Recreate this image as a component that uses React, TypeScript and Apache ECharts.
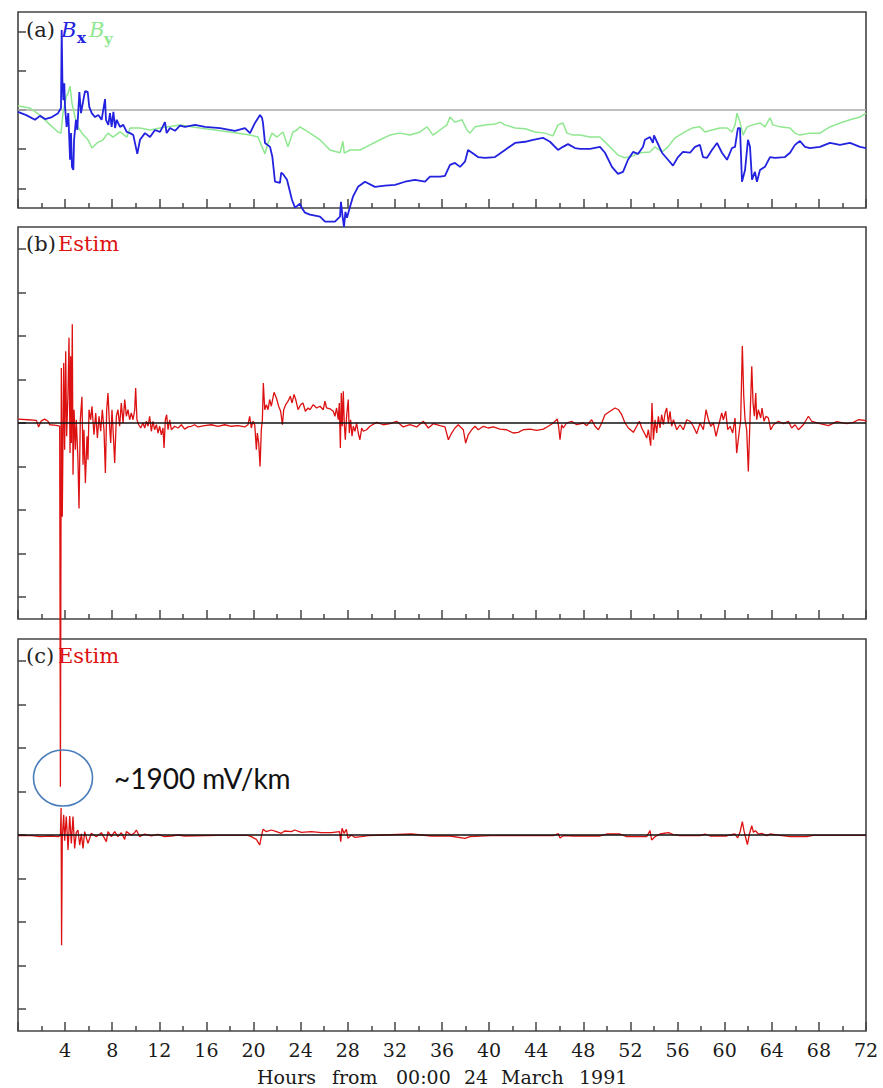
import React, { useEffect, useRef } from 'react';
import * as echarts from 'echarts';

// Hours since 00:00 24 March 1991, field values
const bxData: number[][] = [
  [0,-0.5],[0.7,-1.3],[1.44,-2.5],[1.87,-1.5],[2.3,-2.3],[2.89,-1.8],[3.4,-0.8],[3.65,0.5],[3.71,20.4],[3.77,7.6],[3.85,2.5],[3.93,6.8],[3.99,1.0],[4.13,-4.3],[4.27,-0.8],[4.42,-12.7],[4.5,-5.9],[4.58,-14.5],[4.7,-15.3],[4.76,-7.6],[4.92,-2.5],[5.03,-5.1],[5.21,4.6],[5.35,-0.8],[5.55,2.5],[5.69,4.8],[5.92,4.6],[6.05,0.8],[6.26,-0.8],[6.54,-1.8],[6.82,-1.3],[7.1,-2.5],[7.39,2.8],[7.47,-2.5],[7.67,-3.8],[7.81,-0.8],[7.95,-4.3],[8.1,-0.5],[8.24,-4.6],[8.38,-2.5],[8.66,-4.3],[8.94,-3.8],[9.23,-5.6],[9.51,-5.9],[9.79,-6.4],[10.13,-11.2],[10.36,-7.6],[10.78,-5.9],[11.21,-6.9],[11.63,-5.1],[12.06,-5.6],[12.48,-3.1],[12.62,-5.9],[12.9,-4.6],[13.33,-5.3],[13.75,-4.0],[14.18,-4.3],[15.03,-3.8],[15.88,-4.3],[17.15,-4.6],[18.42,-5.3],[19.27,-4.6],[19.7,-5.9],[20.12,-3.3],[20.55,-1.3],[20.72,-2.0],[20.8,-3.3],[20.97,-8.4],[21.4,-9.4],[21.6,-12.0],[21.82,-18.3],[22.24,-18.6],[22.35,-16.0],[22.5,-16.3],[22.84,-17.8],[23.26,-22.9],[23.52,-24.9],[23.94,-23.9],[24.1,-25.0],[24.37,-26.2],[24.79,-26.7],[25.64,-27.2],[26.07,-28.5],[26.91,-28.5],[27.34,-27.2],[27.42,-23.4],[27.55,-27.0],[27.68,-29.8],[27.8,-26.0],[27.93,-27.5],[28.19,-24.7],[28.44,-22.1],[28.87,-19.6],[29.46,-18.3],[30.31,-19.6],[31.16,-19.3],[32.01,-19.1],[32.86,-18.3],[33.71,-17.8],[34.56,-18.3],[34.98,-17.0],[35.83,-17.0],[36.25,-16.8],[36.68,-14.0],[37.1,-13.5],[37.53,-14.5],[37.95,-13.2],[38.21,-10.2],[38.55,-10.9],[39.06,-12.0],[39.65,-12.2],[40.5,-12.0],[41.35,-10.2],[42.2,-8.4],[43.05,-8.1],[43.73,-7.6],[44.57,-7.1],[45.17,-8.1],[45.85,-10.2],[46.27,-9.4],[46.7,-8.7],[47.29,-9.7],[47.72,-9.9],[48.57,-9.9],[49.41,-9.4],[49.84,-10.9],[50.43,-14.5],[50.94,-16.3],[51.37,-15.8],[51.79,-12.7],[52.22,-10.7],[52.64,-11.2],[53.07,-9.4],[53.23,-7.6],[53.66,-6.9],[53.91,-8.4],[54.0,-6.5],[54.25,-8.1],[54.68,-10.9],[55.19,-12.7],[55.61,-14.2],[56.04,-12.0],[56.46,-10.7],[57.06,-10.9],[57.48,-9.4],[57.9,-8.9],[58.16,-12.0],[58.5,-12.2],[58.92,-10.2],[59.35,-8.4],[59.77,-10.9],[60.2,-12.7],[60.62,-9.7],[60.88,-9.4],[61.05,-6.0],[61.13,-4.6],[61.3,-4.6],[61.47,-18.3],[61.73,-15.3],[61.98,-7.6],[62.15,-9.4],[62.32,-17.8],[62.57,-15.8],[62.74,-18.3],[63.0,-15.3],[63.42,-14.5],[63.85,-12.0],[64.27,-12.2],[65.12,-12.0],[65.55,-10.9],[65.97,-8.9],[66.39,-7.9],[66.82,-9.4],[67.24,-9.7],[68.09,-9.4],[68.94,-8.4],[69.79,-8.9],[70.64,-8.4],[71.49,-9.4],[72,-9.7]
];

const byData: number[][] = [
  [0,1.0],[1.02,0.5],[1.87,-1.3],[2.72,-3.8],[3.4,-5.6],[3.65,-5.9],[3.82,-0.8],[4.1,3.5],[4.25,4.3],[4.42,6.1],[4.58,1.8],[4.84,-1.8],[5.09,-4.3],[5.43,-5.9],[5.94,-7.6],[6.28,-9.7],[6.71,-8.4],[7.22,-7.6],[7.64,-5.9],[8.07,-6.9],[8.66,-5.6],[9.25,-6.9],[9.51,-4.6],[10.36,-4.6],[11.21,-5.1],[12.06,-4.6],[13.75,-3.8],[15.45,-4.6],[18.0,-5.6],[19.7,-6.4],[20.38,-6.9],[20.72,-9.4],[20.97,-11.2],[21.23,-8.4],[21.57,-5.9],[21.99,-6.9],[22.5,-5.6],[22.92,-9.4],[23.35,-5.6],[23.69,-5.1],[23.94,-4.3],[24.37,-5.1],[25.05,-6.4],[25.64,-7.6],[26.49,-10.2],[27.34,-10.9],[27.59,-8.0],[27.7,-11.0],[28.19,-10.2],[29.04,-10.2],[29.89,-8.9],[30.74,-7.6],[31.58,-6.4],[32.43,-5.9],[33.28,-6.4],[34.13,-5.6],[34.73,-4.3],[35.24,-6.4],[35.83,-5.1],[36.42,-3.8],[36.68,-1.8],[37.1,-3.1],[37.7,-2.5],[38.12,-5.1],[38.38,-5.9],[38.8,-4.3],[39.65,-3.8],[40.5,-3.6],[40.92,-3.1],[41.35,-3.8],[42.2,-4.6],[43.05,-4.8],[43.9,-5.6],[44.74,-5.9],[45.42,-6.6],[45.85,-3.8],[46.27,-3.3],[46.61,-5.9],[47.12,-6.4],[47.72,-6.4],[48.57,-6.9],[49.41,-6.9],[50.26,-9.4],[50.94,-11.5],[51.54,-12.2],[52.22,-11.7],[52.81,-10.9],[53.66,-10.7],[54.08,-9.4],[54.68,-10.7],[55.19,-9.4],[55.78,-7.1],[56.63,-5.6],[57.23,-4.6],[57.9,-4.3],[58.33,-5.6],[58.92,-5.1],[59.6,-4.6],[60.2,-4.6],[60.62,-5.6],[60.88,-3.8],[61.05,-0.8],[61.3,-3.1],[61.56,-6.4],[61.9,-4.3],[62.4,-3.8],[63.0,-3.3],[63.42,-4.3],[63.85,-2.0],[64.1,-3.8],[64.7,-4.3],[65.55,-4.6],[65.97,-5.9],[66.39,-6.4],[67.24,-5.9],[68.09,-5.9],[68.94,-4.3],[69.79,-3.3],[70.64,-2.5],[71.49,-1.8],[72,-0.8]
];

// Panel (b) Estim, mV/km
const estimB: number[][] = [
  [0,18],[0.85,15],[1.56,12],[1.75,-18],[1.98,10],[2.26,18],[2.55,8],[2.69,-8],[3.11,-10],[3.54,-14],[3.6,-1670],[3.68,253],[3.76,-430],[3.88,276],[3.96,-123],[4.05,330],[4.13,-61],[4.25,146],[4.33,392],[4.42,-138],[4.47,307],[4.53,-92],[4.61,453],[4.67,-238],[4.76,61],[4.87,-123],[4.95,15],[5.09,-169],[5.18,-392],[5.29,15],[5.43,120],[5.52,-192],[5.6,-31],[5.72,-276],[5.86,-61],[5.94,-169],[6.03,61],[6.17,15],[6.28,77],[6.45,-54],[6.6,46],[6.74,-69],[6.88,31],[7.02,-38],[7.16,61],[7.3,-31],[7.42,-230],[7.53,61],[7.64,138],[7.76,0],[7.87,-92],[7.98,61],[8.07,-31],[8.21,-184],[8.35,31],[8.49,61],[8.63,-15],[8.77,92],[8.92,0],[9.06,108],[9.2,31],[9.34,61],[9.48,15],[9.62,46],[9.77,15],[9.91,61],[9.99,161],[10.1,15],[10.25,-8],[10.42,-23],[10.61,0],[10.76,-23],[10.9,8],[11.04,-15],[11.18,31],[11.32,-38],[11.46,8],[11.6,-31],[11.75,-8],[11.89,-46],[12.03,-15],[12.17,-54],[12.31,-23],[12.4,-115],[12.51,15],[12.62,38],[12.74,-31],[12.88,15],[13.02,-31],[13.3,-15],[13.59,-23],[13.87,-8],[14.15,-28],[14.44,-18],[14.72,-15],[15.0,-8],[15.28,-18],[15.85,-12],[16.42,-8],[16.98,-15],[17.55,-8],[18.11,-15],[18.68,-12],[19.25,-18],[19.53,-8],[19.67,31],[19.81,-23],[19.95,8],[20.1,-8],[20.24,-123],[20.32,-46],[20.44,-92],[20.55,-200],[20.66,-31],[20.75,15],[20.83,184],[20.95,61],[21.09,84],[21.23,61],[21.37,108],[21.51,77],[21.74,141],[21.94,115],[22.13,77],[22.3,54],[22.45,-8],[22.56,61],[22.73,84],[22.93,100],[23.12,123],[23.27,92],[23.44,131],[23.58,108],[23.78,61],[24.0,84],[24.2,92],[24.4,54],[24.63,69],[24.79,61],[25.07,84],[25.36,69],[25.64,77],[25.92,61],[26.06,100],[26.2,69],[26.49,65],[26.77,54],[26.91,31],[27.05,69],[27.19,15],[27.28,92],[27.37,-115],[27.45,138],[27.53,-15],[27.62,146],[27.7,0],[27.79,-77],[27.9,31],[28.04,108],[28.13,-46],[28.24,15],[28.36,-61],[28.47,-15],[28.61,-38],[28.75,0],[28.89,-46],[29.03,-77],[29.18,-23],[29.32,-38],[29.6,-31],[29.88,-15],[30.45,3],[31.02,-8],[31.58,-3],[32.15,8],[32.71,-18],[33.28,-8],[33.85,-18],[34.41,8],[34.84,-23],[35.26,-3],[35.83,-12],[36.25,-18],[36.54,-77],[36.82,-46],[37.1,-23],[37.38,-8],[37.81,-31],[38.01,-92],[38.23,-54],[38.52,-31],[38.8,-15],[39.08,-31],[39.51,-15],[39.93,-23],[40.36,-18],[40.92,-28],[41.49,-31],[42.05,-46],[42.48,-43],[42.9,-31],[43.47,-28],[44.04,-34],[44.6,-28],[45.03,-15],[45.45,0],[45.79,18],[45.9,-15],[46.02,-77],[46.16,-8],[46.3,-23],[46.58,0],[47.01,8],[47.43,-8],[48.0,0],[48.29,-12],[48.71,15],[48.99,-15],[49.28,-31],[49.56,0],[49.84,38],[50.27,54],[50.69,69],[50.98,61],[51.26,38],[51.54,0],[51.82,-23],[52.25,-43],[52.53,-15],[52.76,8],[52.96,-23],[53.18,-46],[53.38,-69],[53.52,-31],[53.72,-104],[53.83,92],[53.95,-77],[54.09,15],[54.23,-46],[54.37,31],[54.51,-23],[54.65,38],[54.8,-8],[54.94,46],[55.08,69],[55.22,0],[55.36,54],[55.5,-15],[55.65,15],[55.93,-31],[56.21,-8],[56.49,-31],[56.78,15],[57.06,8],[57.34,-15],[57.63,-49],[57.91,0],[58.19,-31],[58.42,61],[58.62,15],[58.82,-15],[59.04,0],[59.27,-61],[59.47,-15],[59.75,46],[59.89,15],[60.09,54],[60.26,-31],[60.46,-15],[60.68,-46],[60.88,23],[61.02,-138],[61.19,-61],[61.36,15],[61.5,353],[61.62,123],[61.73,15],[61.87,-31],[62.01,-223],[62.15,15],[62.3,261],[62.41,92],[62.52,31],[62.64,138],[62.72,15],[62.86,61],[63.06,23],[63.17,69],[63.34,8],[63.51,31],[63.71,23],[63.91,-31],[64.14,-8],[64.56,8],[64.99,-3],[65.41,8],[65.69,-23],[65.98,-8],[66.26,-31],[66.68,-8],[67.11,31],[67.39,8],[68.1,-3],[68.81,-12],[69.51,6],[70.36,-3],[70.93,3],[71.35,15],[71.92,12],[72,5]
];

// Panel (c) Estim, mV/km
const estimC: number[][] = [
  [0,-12],[1.2,-12],[1.84,-29],[2.83,-17],[3.4,-29],[3.6,-10],[3.66,467],[3.7,-1900],[3.76,-40],[3.88,346],[3.96,-100],[4.1,317],[4.25,-259],[4.39,328],[4.53,-144],[4.67,317],[4.81,-230],[4.95,40],[5.09,86],[5.24,-173],[5.38,20],[5.52,-230],[5.66,58],[5.94,-144],[6.23,29],[6.65,-29],[7.08,40],[7.3,-40],[7.5,-115],[7.64,58],[7.93,-29],[8.21,58],[8.49,-29],[8.77,40],[9.06,-75],[9.2,58],[9.62,0],[9.91,40],[10.05,86],[10.33,-29],[10.76,17],[11.32,-17],[11.89,12],[12.45,-29],[13.02,-17],[13.59,0],[14.15,-17],[16.98,-6],[19.53,-6],[19.81,-29],[20.24,-75],[20.52,-173],[20.66,-29],[20.8,98],[21.09,58],[21.51,86],[21.94,58],[22.36,29],[22.64,69],[23.21,58],[23.49,86],[24.06,46],[24.91,58],[25.76,40],[26.61,40],[27.31,58],[27.4,-115],[27.51,115],[27.68,29],[27.88,98],[28.02,-58],[28.3,0],[28.59,-40],[29.15,-29],[29.72,-12],[31.13,0],[33.4,17],[35.1,-17],[36.68,-17],[37.95,-58],[38.38,-29],[40.08,-12],[42.9,-12],[45.45,-12],[45.88,23],[46.02,-52],[46.3,-12],[47.15,-17],[49.42,-17],[49.98,17],[51.11,17],[51.68,-29],[53.38,-29],[53.66,75],[53.8,-86],[54.09,-29],[54.51,17],[55.22,40],[55.64,6],[56.21,-12],[57.91,-12],[58.33,17],[58.76,-17],[60.17,-17],[60.45,0],[60.88,17],[61.1,-52],[61.3,46],[61.5,230],[61.64,75],[61.81,-69],[61.93,-167],[62.1,17],[62.3,161],[62.44,46],[62.61,75],[62.86,17],[63.14,29],[63.57,-12],[63.85,17],[64.7,-6],[65.55,-29],[66.96,-29],[67.53,-6],[69.8,-6],[72,-6]
];

const tickA = [-20, -10, 0, 10, 20];
const tickB = [-800, -600, -400, -200, 0, 200, 400, 600, 800];
const tickC = [-3000, -2250, -1500, -750, 0, 750, 1500, 2250, 3000];
const hourTickLabels = ['4','8','12','16','20','24','28','32','36','40','44','48','52','56','60','64','68','72'];
const axisTitleWords = ['Hours', 'from', '00:00', '24', 'March', '1991'];
const wordX = [257, 332, 396, 464, 501, 579];

const SERIF = '"DejaVu Serif", "Liberation Serif", serif';
const AX = '#444';

function makeX(gi: number, labels: boolean) {
  return {
    type: 'value', gridIndex: gi, min: 0, max: 72, interval: 4,
    axisLine: { show: false, onZero: false },
    axisTick: { show: true, inside: true, length: 9, lineStyle: { color: AX, width: 1.5 } },
    minorTick: { show: true, splitNumber: 2, length: 5, lineStyle: { color: AX, width: 1.5 } },
    splitLine: { show: false }, minorSplitLine: { show: false },
    axisLabel: labels ? {
      show: true, margin: 9, fontSize: 19, fontFamily: SERIF, color: '#1a1a1a',
      showMinLabel: true, showMaxLabel: true,
      formatter: (v: number) => { const s = String(v); return hourTickLabels.indexOf(s) >= 0 ? s : ''; },
    } : { show: false },
  };
}
function makeY(gi: number, min: number, max: number, ticks: number[]) {
  return {
    type: 'value', gridIndex: gi, min, max,
    axisLine: { show: false, onZero: false },
    axisTick: { show: true, inside: true, length: 8, customValues: ticks, lineStyle: { color: AX, width: 1.5 } },
    axisLabel: { show: false },
    splitLine: { show: false },
  };
}
function lineSeries(xi: number, data: number[][], color: string, width: number, z: number) {
  return {
    type: 'line', xAxisIndex: xi, yAxisIndex: xi, data, showSymbol: false, symbol: 'none',
    clip: false, z, silent: true,
    lineStyle: { color, width }, itemStyle: { color },
  };
}
const grid = (top: number, height: number) => ({
  left: 18, top, width: 848, height, show: true, borderColor: AX, borderWidth: 1.6,
  backgroundColor: 'rgba(0,0,0,0)',
});

function txt(x: number, y: number, text: string, font: string, fill: string) {
  return { type: 'text', x, y, z: 100, style: { text, font, fill, textAlign: 'left', textVerticalAlign: 'middle' } };
}

export default function App() {
  const ref = useRef<HTMLDivElement>(null);
  useEffect(() => {
    const chart = echarts.init(ref.current!, null, { renderer: 'svg' });
    const option: any = {
      animation: false,
      grid: [grid(12, 196), grid(227, 392), grid(639, 392)],
      xAxis: [makeX(0, false), makeX(1, false), makeX(2, true)],
      yAxis: [makeY(0, -25, 25, tickA), makeY(1, -900, 900, tickB), makeY(2, -3375, 3375, tickC)],
      series: [
        lineSeries(0, [[0, 0], [72, 0]], '#a8a8a8', 1.5, 1),
        lineSeries(0, byData, '#8fe88f', 1.5, 2),
        lineSeries(0, bxData, '#2222e0', 1.8, 3),
        lineSeries(1, estimB, '#dd1111', 1.3, 2),
        lineSeries(1, [[0, 0], [72, 0]], '#111111', 1.3, 4),
        lineSeries(2, estimC, '#dd1111', 1.3, 2),
        lineSeries(2, [[0, 0], [72, 0]], '#111111', 1.3, 4),
      ],
      graphic: [
        txt(26, 30, '(a)', '21px ' + SERIF, '#222'),
        txt(61, 30, 'B', 'italic 21px ' + SERIF, '#2222e0'),
        txt(77, 38, 'x', 'bold 15px ' + SERIF, '#2222e0'),
        txt(89, 30, 'B', 'italic 21px ' + SERIF, '#8fe88f'),
        txt(104, 39, 'y', 'bold 15px ' + SERIF, '#8fe88f'),
        txt(26, 244, '(b)', '21px ' + SERIF, '#222'),
        txt(58, 244, 'Estim', '21px ' + SERIF, '#dd1111'),
        txt(26, 656, '(c)', '21px ' + SERIF, '#222'),
        txt(58, 656, 'Estim', '21px ' + SERIF, '#dd1111'),
        ...axisTitleWords.map((w, i) => txt(wordX[i], 1077, w, '19px ' + SERIF, '#1a1a1a')),
        {
          type: 'ellipse', z: 100,
          shape: { cx: 63, cy: 778, rx: 29.5, ry: 28 },
          style: { fill: 'none', stroke: '#4a7ebb', lineWidth: 1.6 },
        },
        txt(114, 778, '~1900 mV/km', '28px Lato, "Open Sans", sans-serif', '#111'),
      ],
    };
    chart.setOption(option);
    return () => chart.dispose();
  }, []);
  return <div ref={ref} style={{ position: 'absolute', left: 0, top: 0, width: 883, height: 1088 }} />;
}
